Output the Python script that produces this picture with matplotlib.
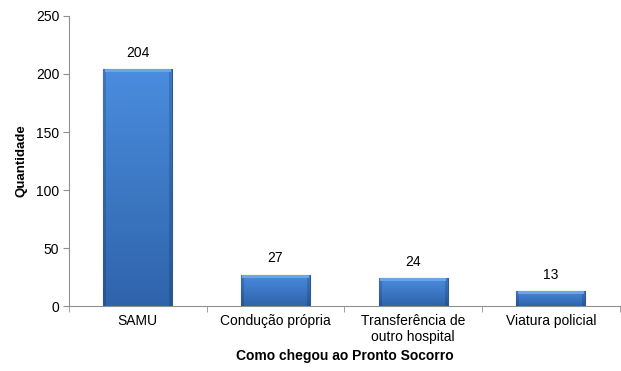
import numpy as np
import matplotlib.pyplot as plt
from matplotlib.colors import to_rgb

categorias = ["SAMU", "Condução própria", "Transferência de\noutro hospital", "Viatura policial"]
quantidade = [204, 27, 24, 13]
yticks = [0, 50, 100, 150, 200, 250]

plt.rcParams['font.family'] = ['Liberation Sans', 'DejaVu Sans']

fig = plt.figure(figsize=(6.21, 3.71), dpi=100)
ax = fig.add_axes([0.111, 0.175, 0.887, 0.782])

x = np.arange(len(categorias))
bars = ax.bar(x, quantidade, width=0.5, color="#3b7bcc", edgecolor="#2a5a98", linewidth=0.8, zorder=2)

topo = np.array(to_rgb("#4a8cde"))
base = np.array(to_rgb("#2f64ab"))
t = np.linspace(0, 1, 64)[:, None]
grad_v = topo * (1 - t) + base * t  # de cima para baixo

for b in bars:
    x0, w, h = b.get_x(), b.get_width(), b.get_height()
    img = np.repeat(grad_v[:, None, :], 24, axis=1)
    # bordas laterais mais escuras
    img[:, 0] *= 0.85
    img[:, -1] *= 0.85
    im = ax.imshow(img, extent=[x0, x0 + w, 0, h], aspect='auto', zorder=3, interpolation='nearest')
    im.set_clip_path(b)
    ax.add_patch(plt.Rectangle((x0 + 0.01, h - 2.5), w - 0.02, 2.5, color="#6ea4e6", zorder=4, lw=0))
    ax.text(x0 + w / 2, h + 8, str(h), ha='center', va='bottom', fontsize=10, zorder=5)

ax.set_xlim(-0.5, len(categorias) - 0.5)
ax.set_ylim(0, 250)
ax.set_yticks(yticks)
ax.set_xticks(x)
ax.set_xticklabels(categorias, fontsize=10, linespacing=1.1)
ax.set_xticks(np.arange(-0.5, len(categorias), 1), minor=True)
ax.tick_params(axis='x', which='major', length=0, pad=6)
ax.tick_params(axis='x', which='minor', length=4, color='#909090', direction='out')
ax.tick_params(axis='y', length=4, color='#909090', labelsize=10, pad=3)

for s in ['top', 'right']:
    ax.spines[s].set_visible(False)
for s in ['left', 'bottom']:
    ax.spines[s].set_color('#909090')

ax.set_ylabel("Quantidade", fontsize=9.5, fontweight='bold', labelpad=6)
ax.set_xlabel("Como chegou ao Pronto Socorro", fontsize=10, fontweight='bold', labelpad=4)

fig.savefig("out.png", dpi=100)
